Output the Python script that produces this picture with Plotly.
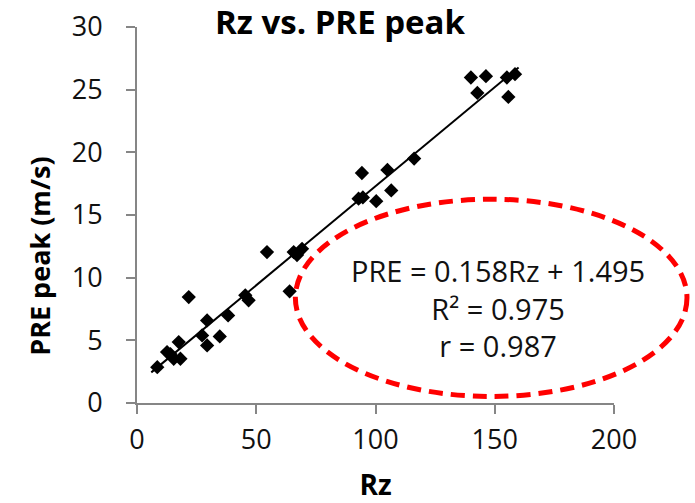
import plotly.graph_objects as go

# Data
rz = [8.5, 12.6, 14.0, 15.4, 18.2, 17.5, 21.7, 29.4, 27.3, 29.4, 34.7, 38.2,
      45.4, 46.8, 54.5, 64.0, 65.7, 69.2, 67.1,
      92.9, 94.7, 94.3, 100.3, 105.0, 106.6, 116.2,
      140.0, 146.3, 142.7, 155.1, 158.5, 155.7]
pre = [2.86, 4.06, 3.9, 3.53, 3.53, 4.86, 8.45, 6.59, 5.39, 4.59, 5.31, 6.99,
       8.59, 8.19, 12.04, 8.91, 12.04, 12.3, 11.8,
       16.3, 16.4, 18.35, 16.1, 18.6, 16.96, 19.5,
       25.97, 26.08, 24.74, 25.97, 26.24, 24.42]

slope = 0.158
intercept = 1.495
fit_x = [6, 160]
fit_y = [slope * v + intercept for v in fit_x]

x_ticks = [0, 50, 100, 150, 200]
y_ticks = [0, 5, 10, 15, 20, 25, 30]

stats_lines = ["PRE = 0.158Rz + 1.495", "R² = 0.975", "r = 0.987"]

FONT = "Open Sans"
AXIS_GRAY = "#868686"

fig = go.Figure()
fig.add_trace(go.Scatter(x=fit_x, y=fit_y, mode="lines",
                         line=dict(color="black", width=2), hoverinfo="skip",
                         showlegend=False))
fig.add_trace(go.Scatter(x=rz, y=pre, mode="markers",
                         marker=dict(symbol="diamond", size=11, color="black"),
                         showlegend=False))

fig.update_layout(
    width=695, height=503,
    margin=dict(l=137, r=81, t=27, b=100),
    paper_bgcolor="white", plot_bgcolor="white",
    font=dict(family=FONT, color="#111"),
    title=dict(text="<b>Rz vs. PRE peak</b>", x=340/695, xanchor="center",
               xref="container", y=1 - 22/503, yref="container", yanchor="middle",
               font=dict(size=33, family=FONT, color="#000")),
    xaxis=dict(range=[0, 200], tickvals=x_ticks, showgrid=False, zeroline=False,
               showline=True, linecolor=AXIS_GRAY, linewidth=2,
               ticks="outside", ticklen=9, tickwidth=2, tickcolor=AXIS_GRAY,
               ticklabelstandoff=3, automargin=False,
               tickfont=dict(size=27, family=FONT, color="#111"),
               title=dict(text="<b>Rz</b>", font=dict(size=28, family=FONT, color="#000"),
                          standoff=22)),
    yaxis=dict(range=[0, 30], tickvals=y_ticks, showgrid=False, zeroline=False,
               showline=True, linecolor=AXIS_GRAY, linewidth=2,
               ticks="outside", ticklen=9, tickwidth=2, tickcolor=AXIS_GRAY,
               ticklabelstandoff=18, automargin=False,
               tickfont=dict(size=27, family=FONT, color="#111")),
)

# Y axis title (placed to match the reference's vertical offset)
fig.add_annotation(text="<b>PRE peak (m/s)</b>", xref="paper", yref="paper",
                   x=(39 - 137) / 476, y=(402 - 255) / 376,
                   xanchor="center", yanchor="middle", textangle=-90,
                   showarrow=False, font=dict(size=27, family=FONT, color="#000"))

# Red dashed ellipse around the statistics
fig.add_shape(type="circle", xref="paper", yref="paper",
              x0=0.332, x1=1.153, y0=0.0173, y1=0.542,
              line=dict(color="#FF0000", width=5, dash="14px,8px"))

fig.add_annotation(text="<br>".join(stats_lines), xref="paper", yref="paper",
                   x=0.757, y=(402 - 307) / 376,
                   xanchor="center", yanchor="middle", showarrow=False, align="center",
                   font=dict(size=29, family=FONT, color="#111"))

fig.write_html("out.html")
